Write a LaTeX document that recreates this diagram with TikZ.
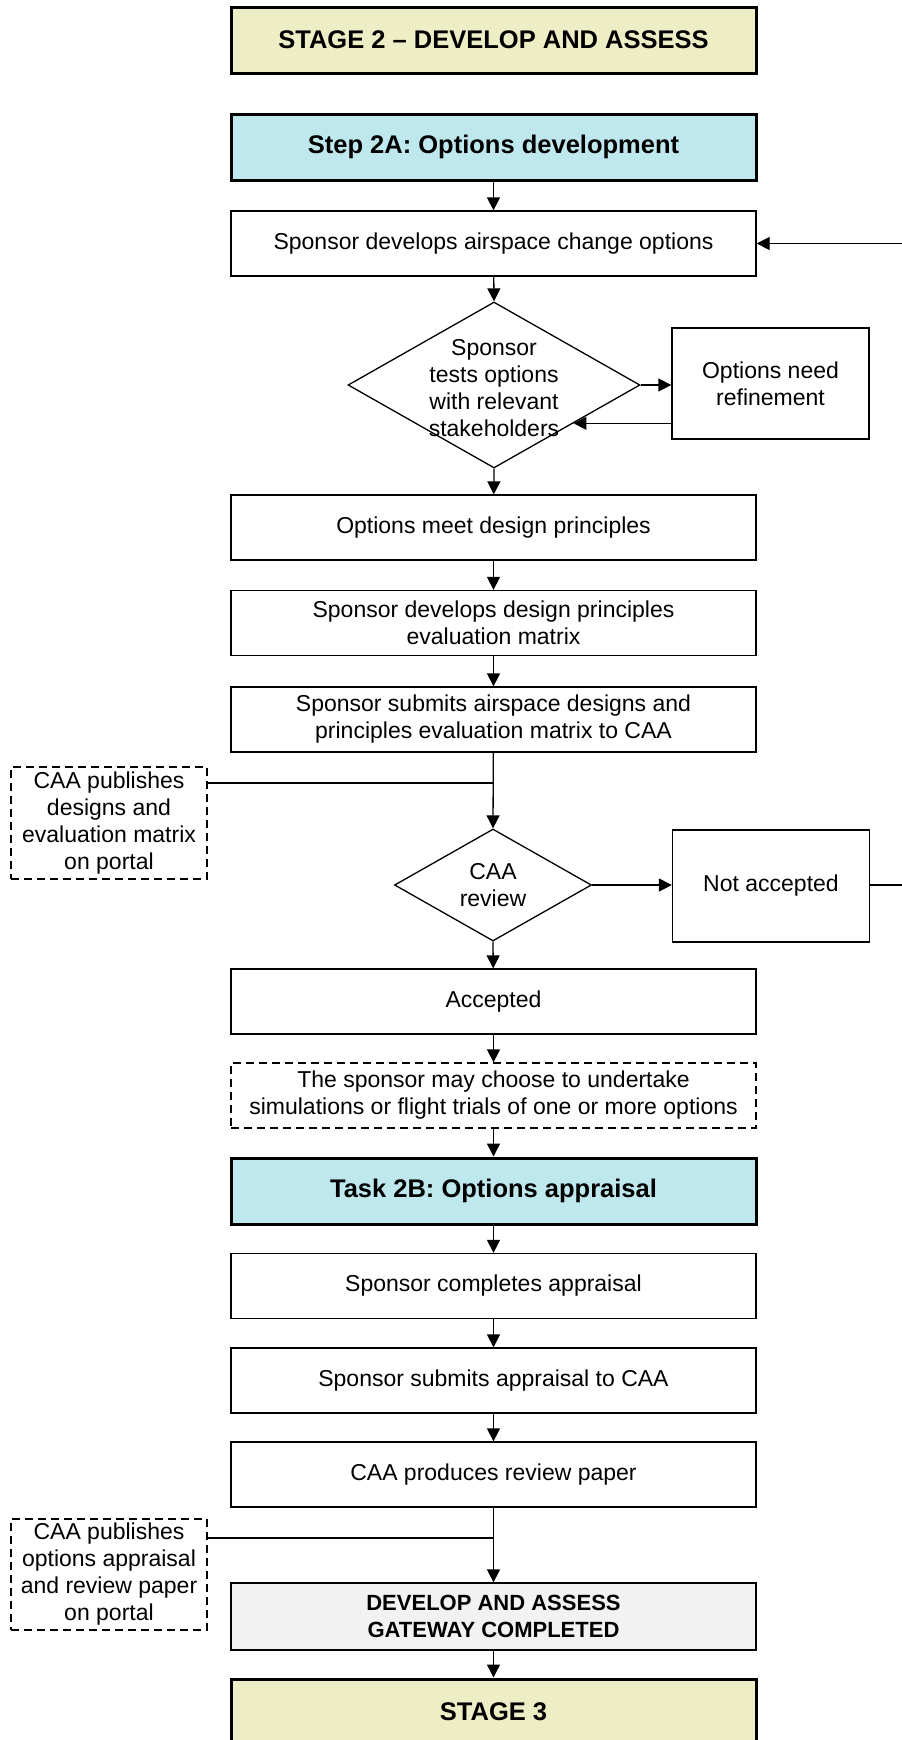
\documentclass[tikz,border=0pt]{standalone}
\usepackage{fontspec}
\setmainfont{Liberation Sans}
\usetikzlibrary{arrows.meta,shapes.geometric,calc}
\definecolor{stageyellow}{HTML}{EEEEC6}
\definecolor{stepblue}{HTML}{BEE8EE}
\definecolor{gatewaygray}{HTML}{F2F2F2}
\begin{document}
\begin{tikzpicture}[x=1pt,y=-1pt,
  every node/.style={font=\fontsize{23}{27}\selectfont, inner sep=0pt},
  mainbox/.style={draw, line width=1.3pt, minimum width=525pt, minimum height=65pt, align=center},
  stagebox/.style={draw, line width=3pt, fill=stageyellow, minimum width=525pt, minimum height=66pt,
    font=\fontsize{25.5}{29}\selectfont\bfseries},
  stepbox/.style={draw, line width=3pt, fill=stepblue, minimum width=525pt, minimum height=66pt,
    font=\fontsize{25.5}{29}\selectfont\bfseries},
  sidebox/.style={draw, line width=1.3pt, minimum width=197pt, minimum height=111pt, align=center},
  notebox/.style={draw, line width=1.3pt, dash pattern=on 8pt off 5pt, align=center},
  decision/.style={draw, line width=1.3pt, diamond, aspect=1.76},
  arr/.style={line width=1.3pt, -{Triangle[length=13pt,width=13pt]}},
  link/.style={line width=1.3pt}]
\useasboundingbox (0,0) rectangle (902,1740);
\begin{scope}
\clip (0,0) rectangle (902,1740);

% main column
\node[stagebox] (stage2) at (493.5,40) {STAGE 2 -- DEVELOP AND ASSESS};
\node[stepbox] (step2a) at (493.5,147) {Step 2A: Options development};
\node[mainbox] (develop) at (493.5,243.5) {Sponsor develops airspace change options};

\node[decision, minimum width=292pt, minimum height=166pt] (test) at (494,385) {};
\node[align=center] (testtext) at (494,388) {Sponsor\\tests options\\with relevant\\stakeholders};
\node[sidebox] (refine) at (770.5,383.5) {Options need\\refinement};

\node[mainbox] (meet) at (493.5,527.5) {Options meet design principles};
\node[mainbox] (matrix) at (493.5,623) {Sponsor develops design principles\\evaluation matrix};
\node[mainbox] (submit) at (493.5,719.5) {Sponsor submits airspace designs and\\principles evaluation matrix to CAA};

\node[notebox, minimum width=196pt, minimum height=112pt] (pub1) at (109,823)
  {CAA publishes\\designs and\\evaluation matrix\\on portal};

\node[decision, minimum width=197pt, minimum height=112pt] (review) at (493,885) {};
\node[align=center] (reviewtext) at (493,885) {CAA\\review};
\node[sidebox, minimum height=112pt] (reject) at (771,886) {Not accepted};

\node[mainbox] (accept) at (493.5,1001.5) {Accepted};
\node[notebox, minimum width=525pt, minimum height=65pt] (trials) at (493.5,1095.5)
  {The sponsor may choose to undertake\\simulations or flight trials of one or more options};
\node[stepbox] (task2b) at (493.5,1191) {Task 2B: Options appraisal};
\node[mainbox] (complete) at (493.5,1286) {Sponsor completes appraisal};
\node[mainbox] (submit2) at (493.5,1380.5) {Sponsor submits appraisal to CAA};
\node[mainbox] (paper) at (493.5,1474.5) {CAA produces review paper};

\node[notebox, minimum width=196pt, minimum height=111pt] (pub2) at (109,1574.5)
  {CAA publishes\\options appraisal\\and review paper\\on portal};

\node[mainbox, fill=gatewaygray, minimum height=67pt, font=\fontsize{22}{27.5}\selectfont\bfseries]
  (gateway) at (493.5,1616.5) {DEVELOP AND ASSESS\\GATEWAY COMPLETED};
\node[stagebox] (stage3) at (493.5,1712) {STAGE 3};

% off-page return loop ends
\coordinate (loopin) at (902,243.5);
\coordinate (loopout) at (902,885);

% connectors
\draw[arr] (step2a) -- (develop);
\draw[arr] (loopin) -- (develop.east);
\draw[arr] (develop) -- (test.north);
\draw[arr] (test.east) -- (test.east -| refine.west);
\coordinate (back) at ($(test.east)!0.458!(test.south)$);
\draw[arr] (refine.west |- back) -- (back);
\draw[arr] (test.south) -- (meet);
\draw[arr] (meet) -- (matrix);
\draw[arr] (matrix) -- (submit);
\draw[arr] (submit) -- (review.north);
\coordinate (join1) at ([yshift=40pt]pub1.east);
\draw[link] (join1) -- (join1 -| submit.south);
\draw[arr] (review.east) -- (review.east -| reject.west);
\draw[link] (reject.east |- review.east) -- (loopout);
\draw[arr] (review.south) -- (accept);
\draw[arr] (accept) -- (trials);
\draw[arr] (trials) -- (task2b);
\draw[arr] (task2b) -- (complete);
\draw[arr] (complete) -- (submit2);
\draw[arr] (submit2) -- (paper);
\draw[arr] (paper) -- (gateway);
\coordinate (join2) at ([yshift=36.5pt]pub2.east);
\draw[link] (join2) -- (join2 -| paper.south);
\draw[arr] (gateway) -- (stage3);
\end{scope}
\end{tikzpicture}
\end{document}
